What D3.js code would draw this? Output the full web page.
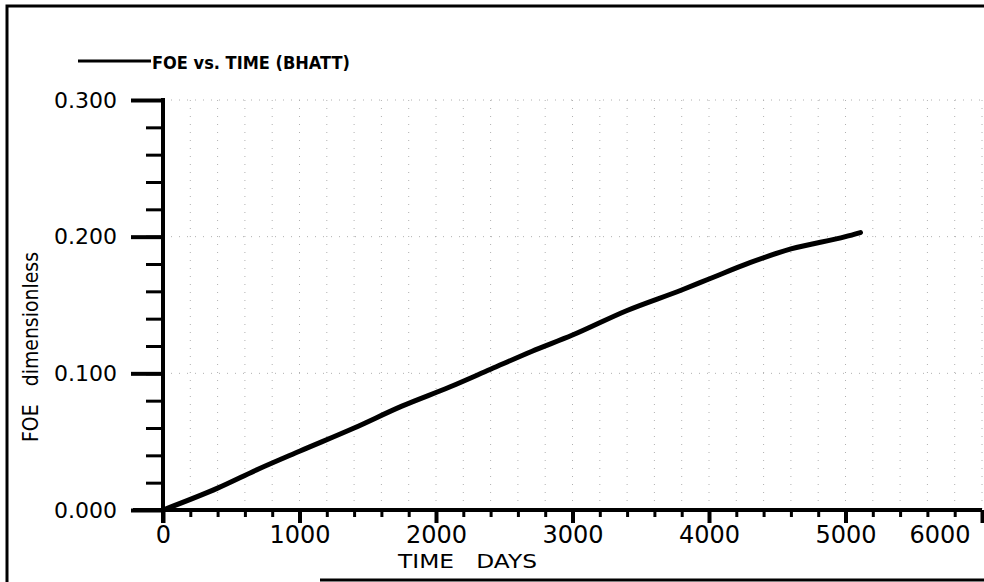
<!DOCTYPE html>
<html>
<head>
<meta charset="utf-8">
<script src="https://cdn.jsdelivr.net/npm/d3@7"></script>
<style>
  html, body { margin: 0; padding: 0; background: #fff; }
  svg { display: block; }
</style>
</head>
<body>
<svg id="chart"></svg>
<script>
// FOE vs. TIME (BHATT)
const days = [0, 400, 700, 1000, 1400, 1750, 2100, 2400, 2700, 3000, 3400, 3800, 4000, 4300, 4600, 5000, 5110];
const foe = [0, 0.016, 0.030, 0.043, 0.060, 0.076, 0.090, 0.103, 0.116, 0.128, 0.146, 0.161, 0.169, 0.181, 0.191, 0.200, 0.203];

const xMajor = [0, 1000, 2000, 3000, 4000, 5000, 6000];
const yMajor = [0, 0.1, 0.2, 0.3];
const legendLabel = "FOE vs. TIME (BHATT)";
const xTitle = "TIME   DAYS";
const yTitle = "FOE   dimensionless";

const width = 984, height = 582;
const svg = d3.select("#chart").attr("width", width).attr("height", height);

const x = d3.scaleLinear().domain([0, 6000]).range([163, 982]);
const y = d3.scaleLinear().domain([0, 0.3]).range([510, 100]);

const xMinor = d3.range(0, 6001, 200);
const yMinor = d3.range(0, 0.3001, 0.02);

// outer frame
svg.append("path")
    .attr("d", "M7,584 V6 H986 M320,580 H986")
    .attr("fill", "none")
    .attr("stroke", "#000")
    .attr("stroke-width", 3);

// faint dotted grid (scan remnants)
const grid = svg.append("g").attr("stroke", "#b0b0b0").attr("stroke-width", 1).attr("stroke-dasharray", "1,7");
grid.selectAll("line.v")
    .data(xMinor.filter(d => d > 0))
    .enter().append("line")
    .attr("x1", d => x(d)).attr("x2", d => x(d))
    .attr("y1", y(0.3)).attr("y2", y(0));
grid.selectAll("line.h")
    .data(yMajor.filter(d => d > 0))
    .enter().append("line")
    .attr("x1", x(0)).attr("x2", x(6000))
    .attr("y1", d => y(d)).attr("y2", d => y(d));

// curve
const line = d3.line()
    .x((d, i) => x(days[i]))
    .y(d => y(d))
    .curve(d3.curveMonotoneX);

svg.append("path")
    .datum(foe)
    .attr("d", line)
    .attr("fill", "none")
    .attr("stroke", "#000")
    .attr("stroke-width", 5)
    .attr("stroke-linecap", "round");

// axes
function styleAxis(g, w) {
    g.select(".domain").remove();
    g.selectAll(".tick line").attr("stroke", "#000").attr("stroke-width", w);
}

svg.append("g")
    .attr("transform", `translate(0,${y(0)})`)
    .call(d3.axisBottom(x).tickValues(xMinor).tickSize(7).tickFormat(""))
    .call(g => styleAxis(g, 3));

const xAxis = svg.append("g")
    .attr("transform", `translate(0,${y(0)})`)
    .call(d3.axisBottom(x).tickValues(xMajor).tickSize(13).tickPadding(3).tickFormat(d3.format("d")))
    .call(g => styleAxis(g, 4));
xAxis.selectAll("text")
    .attr("font-family", "DejaVu Sans, sans-serif")
    .attr("font-size", 24)
    .attr("fill", "#000");
xAxis.selectAll(".tick").filter(d => d === 6000).select("text")
    .attr("text-anchor", "end").attr("x", -12);

svg.append("g")
    .attr("transform", `translate(${x(0)},0)`)
    .call(d3.axisLeft(y).tickValues(yMinor).tickSize(17).tickFormat(""))
    .call(g => styleAxis(g, 3));

const yAxis = svg.append("g")
    .attr("transform", `translate(${x(0)},0)`)
    .call(d3.axisLeft(y).tickValues(yMajor).tickSize(32).tickPadding(14).tickFormat(d3.format(".3f")))
    .call(g => styleAxis(g, 4));
yAxis.selectAll("text")
    .attr("font-family", "DejaVu Sans, sans-serif")
    .attr("font-size", 22)
    .attr("fill", "#000");

// axis lines
svg.append("line")
    .attr("x1", x(0)).attr("x2", x(0))
    .attr("y1", y(0.3) - 2).attr("y2", y(0) + 13)
    .attr("stroke", "#000").attr("stroke-width", 4);
svg.append("line")
    .attr("x1", x(0) - 30).attr("x2", x(6000))
    .attr("y1", y(0)).attr("y2", y(0))
    .attr("stroke", "#000").attr("stroke-width", 4);

// axis titles
svg.append("text")
    .attr("x", 398).attr("y", 568)
    .attr("font-family", "DejaVu Sans, sans-serif")
    .attr("font-size", 20)
    .attr("textLength", 139)
    .attr("lengthAdjust", "spacingAndGlyphs")
    .style("white-space", "pre")
    .text(xTitle);

svg.append("text")
    .attr("transform", "translate(38,442) rotate(-90)")
    .attr("font-family", "DejaVu Sans, sans-serif")
    .attr("font-size", 21)
    .attr("textLength", 190)
    .attr("lengthAdjust", "spacingAndGlyphs")
    .style("white-space", "pre")
    .text(yTitle);

// legend
svg.append("line")
    .attr("x1", 78).attr("x2", 151)
    .attr("y1", 61).attr("y2", 61)
    .attr("stroke", "#000").attr("stroke-width", 3);
svg.append("text")
    .attr("x", 152).attr("y", 69)
    .attr("font-family", "DejaVu Sans, sans-serif")
    .attr("font-weight", "bold")
    .attr("font-size", 17)
    .attr("textLength", 198)
    .attr("lengthAdjust", "spacingAndGlyphs")
    .text(legendLabel);
</script>
</body>
</html>
